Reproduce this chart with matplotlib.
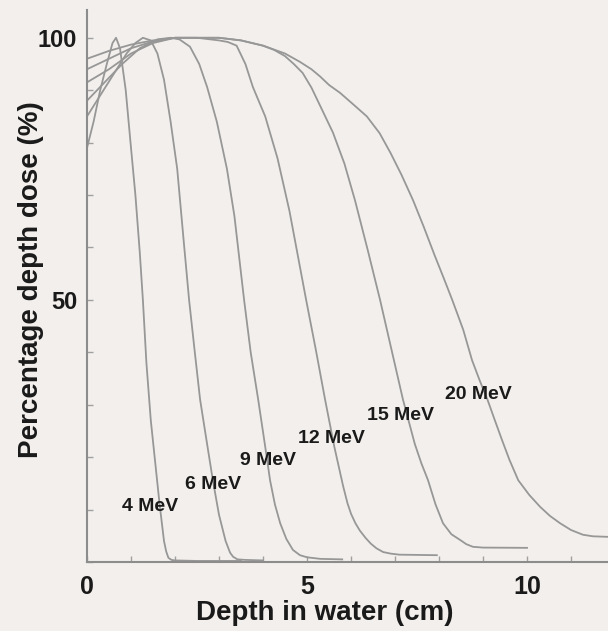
import matplotlib
matplotlib.use('Agg')
import matplotlib.pyplot as plt
from matplotlib.ticker import MultipleLocator

plt.rcParams['font.family'] = ['Liberation Sans', 'DejaVu Sans']
plt.rcParams['font.weight'] = 'bold'

# depth (cm) and percentage depth dose for each beam energy
x_4 = [0, 0.15, 0.3, 0.45, 0.58, 0.66, 0.75, 0.88, 1.0, 1.1, 1.2, 1.27, 1.35, 1.45, 1.55, 1.65, 1.75, 1.8, 1.85, 1.92, 2.0, 2.5, 3.5]
y_4 = [79, 84, 90, 95, 99, 100, 98, 90, 79, 70, 59, 50, 38, 27, 19, 11, 4, 2, 0.8, 0.4, 0.3, 0.2, 0.2]

x_6 = [0, 0.3, 0.6, 0.9, 1.1, 1.27, 1.45, 1.6, 1.75, 1.9, 2.05, 2.2, 2.32, 2.45, 2.57, 2.72, 2.86, 3.0, 3.15, 3.25, 3.32, 3.42, 3.6, 4.0]
y_6 = [85, 89, 93, 97, 99, 100, 99.5, 97, 92, 84, 75, 61, 50, 40, 31, 23, 15.6, 9, 4, 1.8, 1.0, 0.5, 0.4, 0.3]

x_9 = [0, 0.4, 0.8, 1.2, 1.6, 1.9, 2.1, 2.34, 2.55, 2.73, 2.95, 3.18, 3.35, 3.57, 3.72, 3.89, 4.05, 4.16, 4.27, 4.39, 4.53, 4.68, 4.84, 5.0, 5.3, 5.8]
y_9 = [88, 91.5, 95, 98, 99.7, 100, 99.7, 98.3, 95, 90.6, 84, 75, 66, 50, 40, 31, 22, 15.6, 11, 7.4, 4.4, 2.3, 1.3, 0.9, 0.6, 0.5]

x_12 = [0, 0.5, 1.0, 1.5, 2.0, 2.5, 3.0, 3.2, 3.4, 3.6, 3.77, 4.05, 4.33, 4.6, 4.98, 5.2, 5.41, 5.62, 5.82, 5.92, 6.0, 6.1, 6.2, 6.33, 6.45, 6.58, 6.73, 6.9, 7.1, 7.95]
y_12 = [91.5, 94, 97, 99, 100, 100, 99.5, 99.2, 98.5, 95, 90.6, 85, 77, 67, 50, 40.5, 31, 22, 14.5, 11.2, 9.2, 7.4, 6, 4.6, 3.5, 2.6, 1.9, 1.6, 1.4, 1.3]

x_15 = [0, 0.5, 1.0, 1.5, 2.0, 2.5, 3.0, 3.5, 4.0, 4.25, 4.5, 4.7, 4.9, 5.1, 5.3, 5.59, 5.85, 6.09, 6.38, 6.66, 6.92, 7.18, 7.45, 7.6, 7.75, 7.92, 8.09, 8.28, 8.48, 8.62, 8.77, 9.0, 10.0]
y_15 = [94, 96, 98, 99.3, 100, 100, 100, 99.5, 98.5, 97.7, 96.5, 95, 93.3, 90.5, 87, 81.9, 76, 69, 59.5, 50, 40.5, 31, 22.5, 18.8, 15.6, 11, 7.4, 5.3, 4.2, 3.4, 2.9, 2.75, 2.7]

x_20 = [0, 0.5, 1.0, 1.5, 2.0, 2.5, 3.0, 3.5, 4.0, 4.5, 4.84, 5.1, 5.3, 5.5, 5.75, 6.05, 6.36, 6.65, 6.9, 7.15, 7.41, 7.65, 7.9, 8.1, 8.3, 8.55, 8.75, 8.93, 9.1, 9.27, 9.43, 9.6, 9.8, 10.05, 10.3, 10.52, 10.75, 11.0, 11.27, 11.5, 11.84]
y_20 = [96, 97.5, 98.7, 99.5, 100, 100, 100, 99.5, 98.5, 97, 95.4, 94, 92.6, 91, 89.5, 87.3, 85, 81.8, 78, 73.8, 69, 64, 58.5, 54.3, 50, 44.3, 38.5, 34.5, 31, 27, 23.3, 19.5, 15.6, 12.8, 10.5, 8.8, 7.4, 6.1, 5.2, 4.9, 4.8]

labels = ['4 MeV', '6 MeV', '9 MeV', '12 MeV', '15 MeV', '20 MeV']
label_x = [0.8, 2.23, 3.48, 4.8, 6.36, 8.14]
label_y = [10.5, 14.7, 19.3, 23.5, 28, 31.9]

bg = '#f3efec'
fig = plt.figure(figsize=(6.08, 6.31), dpi=100, facecolor=bg)
ax = fig.add_axes([87/608, 69/631, 521/608, 552/631], facecolor=bg)

curves = [(x_4, y_4), (x_6, y_6), (x_9, y_9), (x_12, y_12), (x_15, y_15), (x_20, y_20)]
for xs, ys in curves:
    ax.plot(xs, ys, color='#979797', lw=1.3, solid_joinstyle='round')

for lab, lx, ly in zip(labels, label_x, label_y):
    ax.text(lx, ly, lab, fontsize=14, fontweight='bold', color='#1a1a1a', ha='left', va='center')

ax.set_xlim(0, 11.84)
ax.set_ylim(0, 105.3)
ax.set_xticks([0, 5, 10])
ax.set_yticks([50, 100])
ax.xaxis.set_minor_locator(MultipleLocator(1))
ax.yaxis.set_minor_locator(MultipleLocator(10))
ax.tick_params(which='both', direction='in', color='#a0a0a0', length=4, width=1)
ax.tick_params(axis='x', labelsize=18, pad=9, labelcolor='#1a1a1a')
ax.tick_params(axis='y', labelsize=17, pad=7, labelcolor='#1a1a1a')

for s in ['top', 'right']:
    ax.spines[s].set_visible(False)
for s in ['left', 'bottom']:
    ax.spines[s].set_color('#8c8c8c')
    ax.spines[s].set_linewidth(1.5)

ax.set_xlabel('Depth in water (cm)', fontsize=20, fontweight='bold', color='#1a1a1a')
ax.set_ylabel('Percentage depth dose (%)', fontsize=20, fontweight='bold', color='#1a1a1a')
ax.xaxis.set_label_coords(0.457, -0.068)
ax.yaxis.set_label_coords(-0.083, 0.511)

fig.savefig('out.png', dpi=100, facecolor=bg)
